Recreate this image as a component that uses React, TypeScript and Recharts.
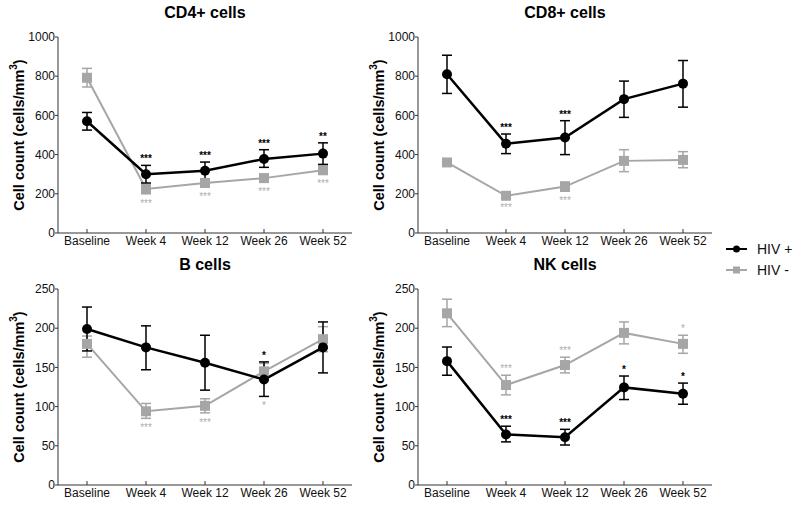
import React from "react";
import { LineChart, Line, XAxis, YAxis, ErrorBar, LabelList, Legend } from "recharts";

const FONT = '"Liberation Sans", Arial, Helvetica, sans-serif';
const BLACK = "#000000";
const GRAY = "#a6a6a6";
const AXIS = "#333333";

const weeks = ["Baseline", "Week 4", "Week 12", "Week 26", "Week 52"];
const thousandTicks = [0, 200, 400, 600, 800, 1000];
const smallTicks = [0, 50, 100, 150, 200, 250];
const legendNames = ["HIV +", "HIV -"];

// CD4+ cells
const cd4Pos = [570, 300, 318, 378, 405];
const cd4PosLow = [525, 255, 275, 335, 350];
const cd4PosHigh = [615, 345, 362, 425, 460];
const cd4Neg = [792, 225, 255, 280, 320];
const cd4NegLow = [745, 200, 235, 260, 300];
const cd4NegHigh = [840, 250, 275, 300, 345];
const cd4PosSig = [null, "***", "***", "***", "**"];
const cd4NegSig = [null, "***", "***", "***", "***"];

// CD8+ cells
const cd8Pos = [810, 455, 487, 683, 762];
const cd8PosLow = [712, 405, 400, 590, 642];
const cd8PosHigh = [907, 505, 573, 775, 880];
const cd8Neg = [360, 190, 237, 368, 373];
const cd8NegLow = [345, 180, 213, 313, 333];
const cd8NegHigh = [375, 200, 260, 425, 415];
const cd8PosSig = [null, "***", "***", null, null];
const cd8NegSig = [null, "***", "***", null, null];

// B cells
const bPos = [199, 175.5, 156, 134.5, 175.5];
const bPosLow = [171, 147, 121, 113, 143];
const bPosHigh = [227, 203, 191, 157, 208];
const bNeg = [180, 94, 101, 145, 186];
const bNegLow = [163, 85, 92, 134, 170];
const bNegHigh = [190, 104, 110, 155, 202];
const bPosSig = [null, null, null, "*", null];
const bNegSig = [null, "***", "***", "*", null];

// NK cells
const nkPos = [158, 64.5, 61, 124.5, 116.5];
const nkPosLow = [140, 55, 51, 109, 103];
const nkPosHigh = [176, 75, 71, 139, 130];
const nkNeg = [219, 127.5, 153, 194, 180];
const nkNegLow = [202, 115, 143, 180, 168];
const nkNegHigh = [237, 140, 163, 208, 191];
const nkPosSig = [null, "***", "***", "*", "*"];
const nkNegSig = [null, "***", "***", null, "*"];

const SquareDot = (props: any) => {
  const { cx, cy, index } = props;
  if (cx == null || cy == null) return <g key={index} />;
  return <rect key={index} x={cx - 5} y={cy - 5} width={10} height={10} fill={GRAY} />;
};

// asterisks above (baseline a bit over the point) or below the anchor point
const sigLabel = (side: "top" | "bottom", color: string, weight: string) => (props: any) => {
  const { x, y, value } = props;
  if (!value || x == null || y == null) return null;
  const ty = side === "top" ? y - 3 : y + 13;
  return (
    <text x={x} y={ty} textAnchor="middle" fontFamily={FONT} fontSize={10} fontWeight={weight} fill={color}>
      {value}
    </text>
  );
};

const YLabel = (props: any) => {
  const vb = props.viewBox || { x: 0, y: 0, width: 0, height: 0 };
  const cx = vb.x + 19;
  const cy = vb.y + vb.height / 2;
  return (
    <text
      x={cx}
      y={cy}
      transform={`rotate(-90 ${cx} ${cy})`}
      textAnchor="middle"
      dominantBaseline="central"
      fontFamily={FONT}
      fontWeight="bold"
      fontSize={14.5}
      fill="#000"
    >
      Cell count (cells/mm
      <tspan dy={-6} fontSize={10}>3</tspan>
      <tspan dy={6}>)</tspan>
    </text>
  );
};

const LegendContent = () => (
  <div style={{ fontFamily: FONT, fontSize: 14, color: "#111" }}>
    {legendNames.map((name) => {
      const isPos = name === "HIV +";
      return (
        <div key={name} style={{ display: "flex", alignItems: "center", height: 21.5 }}>
          <svg width={21} height={10}>
            <line x1={0} y1={5} x2={21} y2={5} stroke={isPos ? BLACK : GRAY} strokeWidth={2} />
            {isPos ? (
              <circle cx={10.5} cy={5} r={3.5} fill={BLACK} />
            ) : (
              <rect x={7} y={1.5} width={7} height={7} fill={GRAY} />
            )}
          </svg>
          <span style={{ marginLeft: 10, whiteSpace: "nowrap" }}>{name}</span>
        </div>
      );
    })}
  </div>
);

interface PanelProps {
  title: string;
  left: number;
  top: number;
  width: number;
  height: number;
  max: number;
  ticks: number[];
  pos: number[];
  posLow: number[];
  posHigh: number[];
  neg: number[];
  negLow: number[];
  negHigh: number[];
  posSig: (string | null)[];
  negSig: (string | null)[];
  negSigSide: "top" | "bottom";
  legend?: boolean;
}

function Panel(p: PanelProps) {
  const data = weeks.map((week, i) => ({
    week,
    pos: p.pos[i],
    posErr: [p.pos[i] - p.posLow[i], p.posHigh[i] - p.pos[i]],
    neg: p.neg[i],
    negErr: [p.neg[i] - p.negLow[i], p.negHigh[i] - p.neg[i]],
    posSig: p.posSig[i],
    negSig: p.negSig[i],
    posSigAt: p.posSig[i] ? p.posHigh[i] : null,
    negSigAt: p.negSig[i]
      ? p.negSigSide === "top"
        ? p.negHigh[i]
        : Math.min(p.negLow[i], p.posLow[i])
      : null,
  }));

  const rightMargin = p.width - 352;
  const bottomMargin = p.height - 233 - 20;

  return (
    <div style={{ position: "absolute", left: p.left, top: p.top }}>
      <div
        style={{
          position: "absolute",
          left: 58,
          top: 5,
          width: 294,
          textAlign: "center",
          fontFamily: FONT,
          fontWeight: "bold",
          fontSize: 16,
          lineHeight: "16px",
          color: "#000",
        }}
      >
        {p.title}
      </div>
      <LineChart
        width={p.width}
        height={p.height}
        data={data}
        margin={{ top: 37, right: rightMargin, bottom: bottomMargin, left: 0 }}
      >
        <XAxis
          dataKey="week"
          type="category"
          height={20}
          padding={{ left: 29, right: 29 }}
          stroke={AXIS}
          tickSize={-4}
          tickMargin={7.5}
          interval={0}
          tick={{ fontFamily: FONT, fontSize: 12, fill: "#111" }}
        />
        <XAxis
          xAxisId="frame"
          dataKey="week"
          orientation="top"
          height={0}
          stroke={AXIS}
          tick={false}
          tickLine={false}
        />
        <YAxis
          type="number"
          domain={[0, p.max]}
          ticks={p.ticks}
          width={58}
          stroke={AXIS}
          tickSize={3}
          tickMargin={0}
          interval={0}
          tick={{ fontFamily: FONT, fontSize: 12, fill: "#111" }}
          label={{ content: YLabel }}
        />
        <YAxis
          yAxisId="frame"
          orientation="right"
          width={0}
          domain={[0, p.max]}
          stroke={AXIS}
          tick={false}
          tickLine={false}
        />
        <Line
          dataKey="neg"
          name="HIV -"
          stroke={GRAY}
          strokeWidth={2}
          dot={SquareDot}
          activeDot={false}
          isAnimationActive={false}
        >
          <ErrorBar dataKey="negErr" width={5} stroke={GRAY} strokeWidth={1.5} direction="y" />
        </Line>
        <Line
          dataKey="pos"
          name="HIV +"
          stroke={BLACK}
          strokeWidth={2.5}
          dot={{ r: 5, fill: BLACK, stroke: BLACK, strokeWidth: 0 }}
          activeDot={false}
          isAnimationActive={false}
        >
          <ErrorBar dataKey="posErr" width={5} stroke={BLACK} strokeWidth={1.5} direction="y" />
        </Line>
        <Line
          dataKey="posSigAt"
          stroke="none"
          dot={false}
          activeDot={false}
          legendType="none"
          isAnimationActive={false}
        >
          <LabelList dataKey="posSig" content={sigLabel("top", "#000", "bold")} />
        </Line>
        <Line
          dataKey="negSigAt"
          stroke="none"
          dot={false}
          activeDot={false}
          legendType="none"
          isAnimationActive={false}
        >
          <LabelList dataKey="negSig" content={sigLabel(p.negSigSide, "#adadad", "normal")} />
        </Line>
        {p.legend && (
          <Legend
            layout="vertical"
            align="center"
            verticalAlign="middle"
            content={LegendContent}
            wrapperStyle={{ position: "absolute", left: 366, top: 238, width: 74 }}
          />
        )}
      </LineChart>
    </div>
  );
}

export default function App() {
  return (
    <div
      style={{
        position: "absolute",
        left: 0,
        top: 0,
        width: 800,
        height: 505,
        background: "#ffffff",
        overflow: "hidden",
      }}
    >
      <Panel
        title="CD4+ cells"
        left={0}
        top={0}
        width={360}
        height={255}
        max={1000}
        ticks={thousandTicks}
        pos={cd4Pos}
        posLow={cd4PosLow}
        posHigh={cd4PosHigh}
        neg={cd4Neg}
        negLow={cd4NegLow}
        negHigh={cd4NegHigh}
        posSig={cd4PosSig}
        negSig={cd4NegSig}
        negSigSide="bottom"
      />
      <Panel
        title="CD8+ cells"
        left={360}
        top={0}
        width={440}
        height={290}
        max={1000}
        ticks={thousandTicks}
        pos={cd8Pos}
        posLow={cd8PosLow}
        posHigh={cd8PosHigh}
        neg={cd8Neg}
        negLow={cd8NegLow}
        negHigh={cd8NegHigh}
        posSig={cd8PosSig}
        negSig={cd8NegSig}
        negSigSide="bottom"
        legend
      />
      <Panel
        title="B cells"
        left={0}
        top={252}
        width={360}
        height={255}
        max={250}
        ticks={smallTicks}
        pos={bPos}
        posLow={bPosLow}
        posHigh={bPosHigh}
        neg={bNeg}
        negLow={bNegLow}
        negHigh={bNegHigh}
        posSig={bPosSig}
        negSig={bNegSig}
        negSigSide="bottom"
      />
      <Panel
        title="NK cells"
        left={360}
        top={252}
        width={360}
        height={255}
        max={250}
        ticks={smallTicks}
        pos={nkPos}
        posLow={nkPosLow}
        posHigh={nkPosHigh}
        neg={nkNeg}
        negLow={nkNegLow}
        negHigh={nkNegHigh}
        posSig={nkPosSig}
        negSig={nkNegSig}
        negSigSide="top"
      />
    </div>
  );
}
